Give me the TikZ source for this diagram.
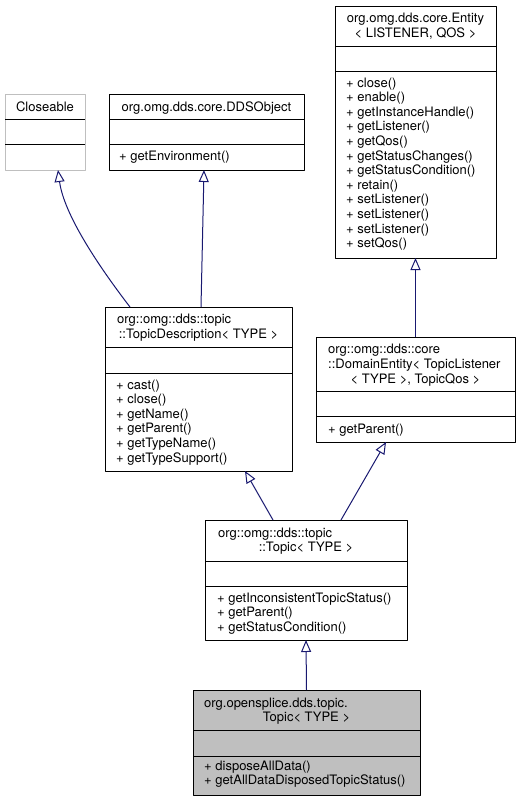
\documentclass[tikz,border=0pt]{standalone}
\usepackage{fontspec}
\setmainfont{TeX Gyre Heros}
\usepackage{tikz}
\usetikzlibrary{arrows.meta}
\usetikzlibrary{calc}
\definecolor{edge}{HTML}{191970}
\definecolor{shade}{HTML}{BFBFBF}
\tikzset{b/.style={draw, line width=1pt, inner sep=0pt, outer sep=0pt, anchor=north west}}
\tikzset{t/.style={font=\fontsize{13}{14.6}\selectfont, inner sep=0pt}}
\tikzset{i/.style={draw=edge, line width=1pt, -{Triangle[open,length=12pt,width=10pt]}}}
\begin{document}
\begin{tikzpicture}[x=1pt, y=-1pt, line join=round]
            \useasboundingbox (0,0) rectangle (521,801);
            \node[b, draw=shade, minimum width=80pt, minimum height=76pt] (close) at (5,94) {};
            \node[b, minimum width=195pt, minimum height=76pt] (dds) at (109,94) {};
            \node[b, minimum width=161pt, minimum height=252pt] (ent) at (335,6) {};
            \node[b, minimum width=187pt, minimum height=164pt] (desc) at (105,307) {};
            \node[b, minimum width=199pt, minimum height=105pt] (dom) at (316,337) {};
            \node[b, minimum width=202pt, minimum height=120pt] (topic) at (205,520) {};
            \node[b, fill=shade, minimum width=227pt, minimum height=105pt] (os) at (193,690) {};
            \draw[shade, line width=1pt] ([yshift=-25pt]close.north west) -- ([yshift=-25pt]close.north east);
            \draw[shade, line width=1pt] ([yshift=-50pt]close.north west) -- ([yshift=-50pt]close.north east);
            \draw[line width=1pt] ([yshift=-25pt]dds.north west) -- ([yshift=-25pt]dds.north east);
            \draw[line width=1pt] ([yshift=-50pt]dds.north west) -- ([yshift=-50pt]dds.north east);
            \draw[line width=1pt] ([yshift=-40pt]ent.north west) -- ([yshift=-40pt]ent.north east);
            \draw[line width=1pt] ([yshift=-65pt]ent.north west) -- ([yshift=-65pt]ent.north east);
            \draw[line width=1pt] ([yshift=-40pt]desc.north west) -- ([yshift=-40pt]desc.north east);
            \draw[line width=1pt] ([yshift=-66pt]desc.north west) -- ([yshift=-66pt]desc.north east);
            \draw[line width=1pt] ([yshift=-54pt]dom.north west) -- ([yshift=-54pt]dom.north east);
            \draw[line width=1pt] ([yshift=-79pt]dom.north west) -- ([yshift=-79pt]dom.north east);
            \draw[line width=1pt] ([yshift=-41pt]topic.north west) -- ([yshift=-41pt]topic.north east);
            \draw[line width=1pt] ([yshift=-66pt]topic.north west) -- ([yshift=-66pt]topic.north east);
            \draw[line width=1pt] ([yshift=-40pt]os.north west) -- ([yshift=-40pt]os.north east);
            \draw[line width=1pt] ([yshift=-66pt]os.north west) -- ([yshift=-66pt]os.north east);
            \node[t, anchor=base] (close-n) at (45,111) {Closeable};
            \node[t, anchor=base] (dds-n) at (206.5,111) {org.omg.dds.core.DDSObject};
            \node[t, anchor=base west] (dds-m) at (119,160) {+ getEnvironment()};
            \node[t, anchor=base] (ent-n1) at (415.5,22) {org.omg.dds.core.Entity};
            \node[t, anchor=base] (ent-n2) at (415.5,37) {< LISTENER, QOS >};
            \node[t, align=left, anchor=base west] (ent-m) at (346,247.6) {+ close()\\+ enable()\\+ getInstanceHandle()\\+ getListener()\\+ getQos()\\+ getStatusChanges()\\+ getStatusCondition()\\+ retain()\\+ setListener()\\+ setListener()\\+ setListener()\\+ setQos()};
            \node[t, anchor=base west] (desc-n1) at (117,323) {org::omg::dds::topic};
            \node[t, anchor=base] (desc-n2) at (198.5,338) {::TopicDescription< TYPE >};
            \node[t, align=left, anchor=base west] (desc-m) at (116,462) {+ cast()\\+ close()\\+ getName()\\+ getParent()\\+ getTypeName()\\+ getTypeSupport()};
            \node[t, anchor=base west] (dom-n1) at (328,353) {org::omg::dds::core};
            \node[t, anchor=base west] (dom-n2) at (328,368) {::DomainEntity< TopicListener};
            \node[t, anchor=base] (dom-n3) at (415.5,383) {< TYPE >, TopicQos >};
            \node[t, anchor=base west] (dom-m) at (328,433) {+ getParent()};
            \node[t, anchor=base west] (topic-n1) at (218,537) {org::omg::dds::topic};
            \node[t, anchor=base] (topic-n2) at (306,551.5) {::Topic< TYPE >};
            \node[t, align=left, anchor=base west] (topic-m) at (217,631.2) {+ getInconsistentTopicStatus()\\+ getParent()\\+ getStatusCondition()};
            \node[t, anchor=base west] (os-n1) at (204,707) {org.opensplice.dds.topic.};
            \node[t, anchor=base] (os-n2) at (306.5,721) {Topic< TYPE >};
            \node[t, align=left, anchor=base west] (os-m) at (204,784.6) {+ disposeAllData()\\+ getAllDataDisposedTopicStatus()};
            \draw[i] ([xshift=25pt]desc.north west) .. controls (100,268) and (64,215) .. ([xshift=13pt]close.south);
            \draw[i] ([xshift=2.5pt]desc.north) -- ([xshift=-2.5pt]dds.south);
            \draw[i] (dom.north) -- (ent.south);
            \draw[i] ([xshift=-33pt]topic.north) -- ([xshift=46.5pt]desc.south);
            \draw[i] ([xshift=35pt]topic.north) -- ([xshift=-29.5pt]dom.south);
            \draw[i] (os.north) -- (topic.south);
          \end{tikzpicture}
\end{document}
